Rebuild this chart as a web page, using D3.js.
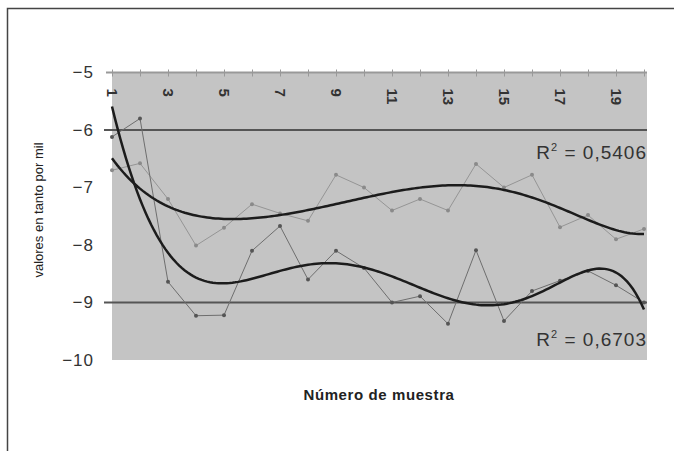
<!DOCTYPE html>
<html>
<head>
<meta charset="utf-8">
<style>
body { margin: 0; background: #ffffff; font-family: 'Liberation Sans', Arial, sans-serif; }
svg { display: block; }
</style>
</head>
<body>
<script src="https://cdn.jsdelivr.net/npm/d3@7"></script>
<script>
'use strict';
// sample numbers on the x axis
const muestras = [1, 2, 3, 4, 5, 6, 7, 8, 9, 10, 11, 12, 13, 14, 15, 16, 17, 18, 19, 20];
// upper series (light grey) and lower series (dark grey)
const serieA = [-6.70, -6.58, -7.20, -8.01, -7.70, -7.29, -7.45, -7.58, -6.78, -7.00,
                -7.40, -7.20, -7.40, -6.59, -7.00, -6.78, -7.69, -7.48, -7.90, -7.72];
const serieB = [-6.12, -5.80, -8.64, -9.23, -9.22, -8.10, -7.67, -8.60, -8.10, -8.40,
                -9.00, -8.89, -9.37, -8.09, -9.32, -8.80, -8.62, -8.45, -8.70, -9.00];
const yTicks = [-5, -6, -7, -8, -9, -10];
const limites = [-6, -9];
const r2Labels = ['0,5406', '0,6703'];
const grado = 6; // polynomial order of the trend lines

const W = 674, H = 451;
const font = "'Liberation Sans', Arial, sans-serif";

const x = d3.scaleLinear().domain([1, 20]).range([112, 644]);
const y = d3.scaleLinear().domain([-10, -5]).range([360, 72.5]);

// least squares polynomial fit, solved with gaussian elimination
function polyfit(xs, ys, deg) {
  const n = deg + 1;
  const A = [];
  for (let i = 0; i < n; i++) {
    A.push(new Array(n + 1).fill(0));
    for (let j = 0; j < n; j++) A[i][j] = d3.sum(xs, xv => Math.pow(xv, i + j));
    A[i][n] = d3.sum(xs, (xv, k) => ys[k] * Math.pow(xv, i));
  }
  for (let c = 0; c < n; c++) {
    let p = c;
    for (let r = c + 1; r < n; r++) if (Math.abs(A[r][c]) > Math.abs(A[p][c])) p = r;
    [A[c], A[p]] = [A[p], A[c]];
    for (let r = 0; r < n; r++) {
      if (r === c) continue;
      const f = A[r][c] / A[c][c];
      for (let k = c; k <= n; k++) A[r][k] -= f * A[c][k];
    }
  }
  const coef = A.map((row, i) => row[n] / row[i]);
  return xv => coef.reduce((s, cf, i) => s + cf * Math.pow(xv, i), 0);
}

const svg = d3.select('body').append('svg')
  .attr('width', W)
  .attr('height', H);

// frame (top and left edge only)
svg.append('path')
  .attr('d', 'M7.5,' + H + 'V8.5H' + W)
  .attr('fill', 'none')
  .attr('stroke', '#444')
  .attr('stroke-width', 1.5);

// plot area
svg.append('rect')
  .attr('x', x(1))
  .attr('y', y(-5))
  .attr('width', x(20) - x(1) + 3)
  .attr('height', y(-10) - y(-5))
  .attr('fill', '#c4c4c4');

// y labels
const yAxis = svg.append('g')
  .attr('transform', 'translate(94,0)')
  .call(d3.axisLeft(y).tickValues(yTicks).tickSize(0).tickPadding(0).tickFormat(d3.format('d')));
yAxis.select('.domain').remove();
yAxis.selectAll('text')
  .attr('font-family', font)
  .attr('font-size', 17)
  .attr('letter-spacing', 1)
  .attr('fill', '#333');

// limit lines at -6 and -9
svg.selectAll('.limite')
  .data(limites)
  .enter().append('line')
    .attr('class', 'limite')
    .attr('x1', 104)
    .attr('x2', x(20) + 3)
    .attr('y1', d => y(d))
    .attr('y2', d => y(d))
    .attr('stroke', '#555')
    .attr('stroke-width', 2);

// x axis on top (y = -5)
const xAxis = svg.append('g')
  .attr('transform', 'translate(0,' + y(-5) + ')')
  .call(d3.axisBottom(x).tickValues(muestras).tickSize(4).tickSizeOuter(0)
    .tickFormat(d => d % 2 ? d : ''));
xAxis.select('.domain').attr('stroke', '#999').attr('stroke-width', 2)
  .attr('d', 'M' + (x(1) - 6) + ',0H' + (x(20) + 3));
xAxis.selectAll('line').attr('stroke', '#999').attr('y1', -3);
xAxis.selectAll('text')
  .attr('font-family', font)
  .attr('font-size', 15)
  .attr('font-weight', 'bold')
  .attr('fill', '#333')
  .attr('text-anchor', 'start')
  .attr('transform', 'rotate(90)')
  .attr('x', 16)
  .attr('y', 0)
  .attr('dy', '0.35em');

// data series
const line = d3.line().x((d, i) => x(muestras[i])).y(d => y(d));
[[serieA, '#959595', '#8a8a8a'], [serieB, '#6e6e6e', '#555']].forEach(([s, c, mc]) => {
  svg.append('path')
    .attr('d', line(s))
    .attr('fill', 'none')
    .attr('stroke', c)
    .attr('stroke-width', 1);
  svg.selectAll(null)
    .data(s)
    .enter().append('circle')
      .attr('cx', (d, i) => x(muestras[i]))
      .attr('cy', d => y(d))
      .attr('r', 2)
      .attr('fill', mc);
});

// polynomial trend lines
const fine = d3.range(1, 20.001, 0.1);
[serieA, serieB].map(s => polyfit(muestras, s, grado)).forEach(f => {
  svg.append('path')
    .attr('d', d3.line().x(d => x(d)).y(d => y(f(d)))(fine))
    .attr('fill', 'none')
    .attr('stroke', '#1c1c1c')
    .attr('stroke-width', 2.5);
});

// R2 labels
[[r2Labels[0], -6.5], [r2Labels[1], -9.75]].forEach(([t, v]) => {
  const tx = svg.append('text')
    .attr('x', 647)
    .attr('y', y(v))
    .attr('text-anchor', 'end')
    .attr('font-family', font)
    .attr('font-size', 19)
    .attr('letter-spacing', 1)
    .attr('fill', '#333');
  tx.append('tspan').text('R');
  tx.append('tspan').attr('font-size', 11).attr('dy', -8).text('2');
  tx.append('tspan').attr('dy', 8).text(' = ' + t);
});

// axis titles
svg.append('text')
  .attr('transform', 'translate(43,210) rotate(-90)')
  .attr('text-anchor', 'middle')
  .attr('font-family', font)
  .attr('font-size', 13)
  .attr('fill', '#222')
  .text('valores en tanto por mil');

svg.append('text')
  .attr('x', 379)
  .attr('y', 400)
  .attr('text-anchor', 'middle')
  .attr('font-family', font)
  .attr('font-size', 15)
  .attr('font-weight', 'bold')
  .attr('letter-spacing', 0.6)
  .attr('fill', '#222')
  .text('Número de muestra');
</script>
</body>
</html>
